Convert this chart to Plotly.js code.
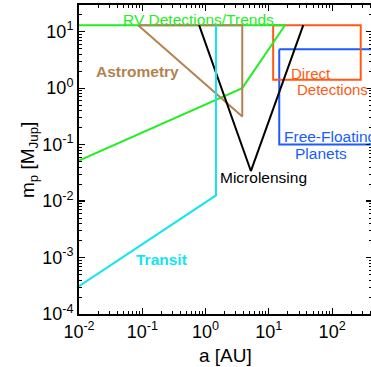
<!DOCTYPE html>
<html>
<head>
<meta charset="utf-8">
<script src="https://cdn.plot.ly/plotly-3.0.1.min.js"></script>
<style>
  html, body { margin: 0; padding: 0; overflow: hidden; background: #fff; }
  #chart { width: 373px; height: 367px; }
</style>
</head>
<body>
<div id="chart"></div>
<script>
// Sensitivity regions of exoplanet detection methods:
// planet mass m_p [M_Jup] versus semi-major axis a [AU].

// Radial velocity detections / trends
const rvA = [0.01, 3.8, 18, 0.01];
const rvM = [0.052, 1.0, 13, 13];
// Astrometry
const astroA = [0.086, 3.8, 3.8, 0.086];
const astroM = [13, 13, 0.315, 13];
// Transit
const transitA = [0.01, 1.46, 1.46];
const transitM = [3.1e-4, 0.0126, 13];
// Microlensing
const microA = [0.79, 5.2, 35];
const microM = [13, 0.034, 13];
// Direct detections
const directA = [11.7, 283, 283, 11.7, 11.7];
const directM = [13, 13, 1.4, 1.4, 13];
// Free-floating planets
const freeA = [14.6, 1000, 1000, 14.6, 14.6];
const freeM = [4.9, 4.9, 0.1, 0.1, 4.9];

// Axis ticks
const xTickVals = [0.01, 0.1, 1, 10, 100];
const xTickText = ['10<sup>-2</sup>', '10<sup>-1</sup>', '10<sup>0</sup>', '10<sup>1</sup>', '10<sup>2</sup>'];
const yTickVals = [1e-4, 1e-3, 1e-2, 1e-1, 1, 10];
const yTickText = ['10<sup>-4</sup>', '10<sup>-3</sup>', '10<sup>-2</sup>', '10<sup>-1</sup>', '10<sup>0</sup>', '10<sup>1</sup>'];

const FONT = '"Liberation Sans", Arial, Helvetica, sans-serif';
const C = {
  rv: '#22ee22',
  astro: '#b3824f',
  transit: '#11e5f0',
  micro: '#000000',
  direct: '#ff5a14',
  free: '#1a5cff'
};

// minor ticks at 2..9 within each decade
function minorTicks(lo, hi) {
  const out = [];
  for (let e = lo; e <= hi; e++) {
    for (let k = 2; k <= 9; k++) out.push(k * Math.pow(10, e));
  }
  return out;
}

function region(a, m, color) {
  return {
    x: a, y: m, type: 'scatter', mode: 'lines',
    line: { color: color, width: 2 },
    hoverinfo: 'skip', showlegend: false
  };
}

const traces = [
  region(freeA, freeM, C.free),
  region(directA, directM, C.direct),
  region(rvA, rvM, C.rv),
  region(astroA, astroM, C.astro),
  region(microA, microM, C.micro),
  region(transitA, transitM, C.transit)
];

function label(text, lx, ly, color, size) {
  return {
    text: text, x: lx, y: ly, xref: 'x', yref: 'y',
    xanchor: 'left', yanchor: 'middle', showarrow: false, borderpad: 0,
    font: { family: FONT, size: size || 15, color: color }
  };
}

const L = Math.log10;
const annotations = [
  label('RV Detections/Trends', L(0.047), L(16.5), C.rv, 15.5),
  label('<b>Astrometry</b>', L(0.0178), L(2.0), C.astro, 15.5),
  label('<b>Transit</b>', L(0.076), L(9.3e-4), C.transit, 15.5),
  label('Microlensing', L(1.66), L(0.0265), C.micro, 15.5),
  label('Direct', L(21.2), L(1.84), C.direct, 15),
  label('Detections', L(26.5), L(0.955), C.direct, 15),
  label('Free-Floating', L(16.7), L(0.141), C.free, 15.5),
  label('Planets', L(24.9), L(0.070), C.free, 15.5),
  // axis titles
  {
    text: 'a [AU]', xref: 'paper', yref: 'paper', x: 0.50, y: -0.133,
    xanchor: 'center', yanchor: 'middle', showarrow: false, borderpad: 0,
    font: { family: FONT, size: 19, color: '#000' }
  },
  {
    text: 'm<sub>p</sub> [M<sub>Jup</sub>]', xref: 'paper', yref: 'paper', x: -0.171, y: 0.498,
    xanchor: 'center', yanchor: 'middle', textangle: -90, showarrow: false, borderpad: 0,
    font: { family: FONT, size: 19, color: '#000' }
  }
];

const axisCommon = {
  type: 'log',
  showline: true, linecolor: '#000', linewidth: 2,
  mirror: 'allticks',
  ticks: 'inside', ticklen: 6, tickwidth: 1.2, tickcolor: '#000',
  showgrid: false, zeroline: false,
  tickmode: 'array',
  automargin: false,
  tickfont: { family: FONT, size: 18, color: '#000' }
};

const layout = {
  width: 373, height: 367,
  margin: { l: 79, r: 1, t: 5, b: 53 },
  paper_bgcolor: '#fff', plot_bgcolor: '#fff',
  showlegend: false,
  xaxis: Object.assign({}, axisCommon, {
    range: [-2, 2.63],
    tickvals: xTickVals, ticktext: xTickText,
    minor: { tickvals: minorTicks(-2, 2), ticks: 'inside', ticklen: 3, tickwidth: 1, tickcolor: '#000' }
  }),
  yaxis: Object.assign({}, axisCommon, {
    range: [-4, 1.4717],
    tickvals: yTickVals, ticktext: yTickText,
    minor: { tickvals: minorTicks(-4, 1), ticks: 'inside', ticklen: 3, tickwidth: 1, tickcolor: '#000' }
  }),
  annotations: annotations
};

Plotly.newPlot('chart', traces, layout, { staticPlot: true, displayModeBar: false });
</script>
</body>
</html>
